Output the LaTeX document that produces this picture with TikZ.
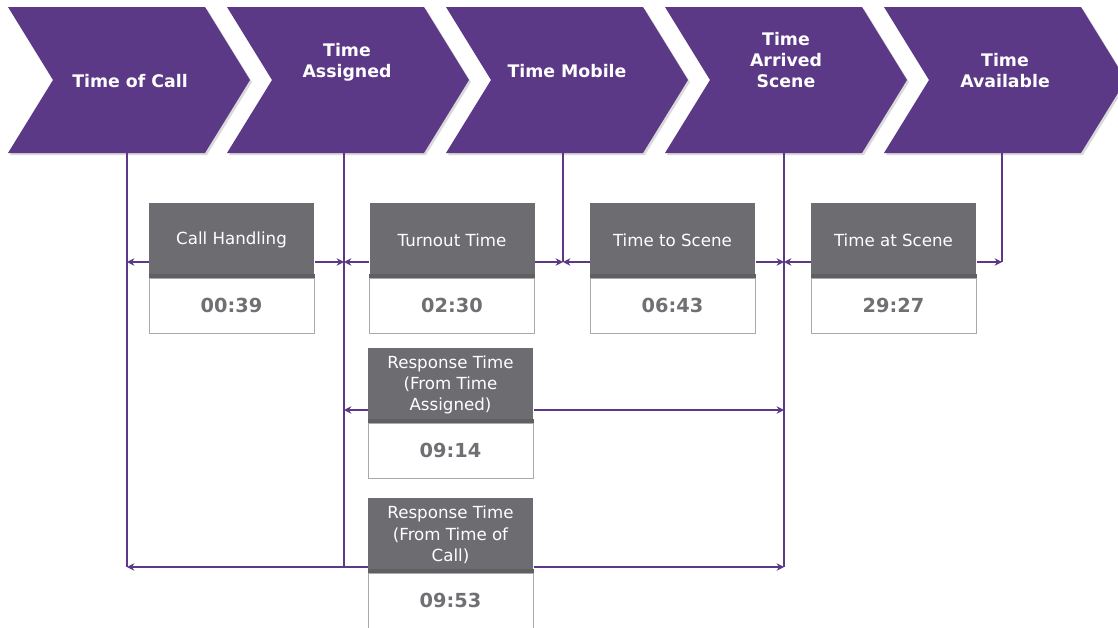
\documentclass[tikz,border=0pt]{standalone}
\usepackage{fontspec}
\setmainfont{DejaVu Sans}
\usetikzlibrary{positioning,arrows.meta}

\definecolor{chev}{RGB}{91,57,135}
\definecolor{hdrgray}{RGB}{109,108,113}
\definecolor{hdrband}{RGB}{96,95,100}
\definecolor{valgray}{RGB}{112,112,116}
\definecolor{boxline}{RGB}{170,170,170}

\tikzset{every picture/.style={line width=0.75pt}}
\tikzset{
  chevtext/.style={text=white, font=\bfseries\fontsize{13}{15.75}\selectfont, align=center},
  hdr/.style={fill=hdrgray, text=white, minimum width=123.75pt, minimum height=55.5pt,
    inner sep=0pt, align=center, font=\fontsize{12.5}{16}\selectfont},
  val/.style={draw=boxline, fill=white, text=valgray, minimum width=123.75pt,
    minimum height=41.25pt, inner sep=0pt, font=\bfseries\fontsize{14.5}{16}\selectfont},
  tline/.style={draw=chev, line width=1.5pt},
  tarrow/.style={tline, -{Stealth[length=5.5pt,width=5.5pt]}},
}

\begin{document}
\begin{tikzpicture}[x=0.75pt,y=0.75pt,yscale=-1,xscale=1]
\useasboundingbox (0,0) rectangle (1118,628);

% chevrons
\foreach \s in {8,227,446,665,884} {
  \fill[black,opacity=0.15] (\s+2,9) -- (\s+199,9) -- (\s+244,82) -- (\s+199,155) -- (\s+2,155) -- (\s+47,82) -- cycle;
  \fill[chev] (\s,7) -- (\s+197,7) -- (\s+242,80) -- (\s+197,153) -- (\s,153) -- (\s+45,80) -- cycle;
}

% Text Node
\node[chevtext] (lcall) at (130,81) {Time of Call};
\node[chevtext] (lasg) at (347,62) {Time\\Assigned};
\node[chevtext] (lmob) at (567,71) {Time Mobile};
\node[chevtext] (larr) at (786,60) {Time\\Arrived\\Scene};
\node[chevtext] (lavl) at (1005,71) {Time\\Available};

% timeline marks
\coordinate (tcall) at (127,153);
\coordinate (tasg) at (344,153);
\coordinate (tmob) at (563,153);
\coordinate (tarr) at (784,153);
\coordinate (tavl) at (1002,153);
\coordinate (lvA) at (0,262);
\coordinate (lvB) at (0,410);
\coordinate (lvC) at (0,567);

\draw[tline] (tcall) -- (tcall |- lvC);
\draw[tline] (tasg) -- (tasg |- lvC);
\draw[tline] (tmob) -- (tmob |- lvA);
\draw[tline] (tarr) -- (tarr |- lvC);
\draw[tline] (tavl) -- (tavl |- lvA);

% boxes
\node[hdr] (ch) at (231.5,240) {Call Handling};
\node[hdr] (to) at (452,240) {Turnout Time};
\node[hdr] (ts) at (672.5,240) {Time to Scene};
\node[hdr] (sc) at (893.5,240) {Time at Scene};
\node[hdr] (ra) at (450.5,385) {Response Time\\(From Time\\Assigned)};
\node[hdr] (rc) at (450.5,535) {Response Time\\(From Time of\\Call)};

\foreach \b in {ch,to,ts,sc,ra,rc}
  \fill[hdrband] (\b.south west) rectangle ([yshift=-3pt]\b.south east);

\node[val, below=0pt of ch] (chv) {00:39};
\node[val, below=0pt of to] (tov) {02:30};
\node[val, below=0pt of ts] (tsv) {06:43};
\node[val, below=0pt of sc] (scv) {29:27};
\node[val, below=0pt of ra] (rav) {09:14};
\node[val, below=0pt of rc] (rcv) {09:53};

% spans
\draw[tarrow] (ch.west |- lvA) -- (tcall |- lvA);
\draw[tarrow] (ch.east |- lvA) -- (tasg |- lvA);
\draw[tarrow] (to.west |- lvA) -- (tasg |- lvA);
\draw[tarrow] (to.east |- lvA) -- (tmob |- lvA);
\draw[tarrow] (ts.west |- lvA) -- (tmob |- lvA);
\draw[tarrow] (ts.east |- lvA) -- (tarr |- lvA);
\draw[tarrow] (sc.west |- lvA) -- (tarr |- lvA);
\draw[tarrow] (sc.east |- lvA) -- (tavl |- lvA);
\draw[tarrow] (ra.west |- lvB) -- (tasg |- lvB);
\draw[tarrow] (ra.east |- lvB) -- (tarr |- lvB);
\draw[tarrow] (rc.west |- lvC) -- (tcall |- lvC);
\draw[tarrow] (rc.east |- lvC) -- (tarr |- lvC);

\end{tikzpicture}
\end{document}
